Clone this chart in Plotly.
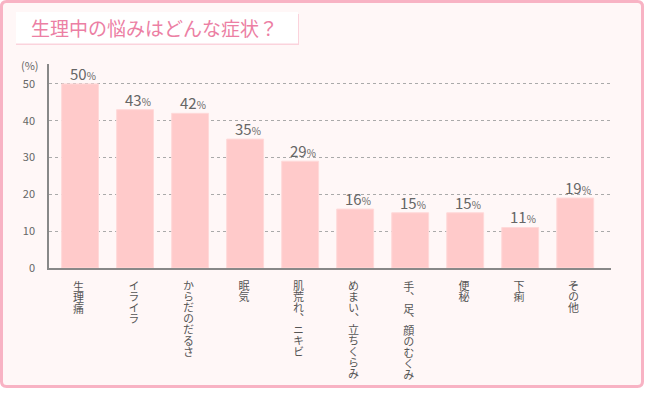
import json
import plotly.graph_objects as go

categories = ["生理痛", "イライラ", "からだのだるさ", "眠気", "肌荒れ、ニキビ",
              "めまい、立ちくらみ", "手、足、顔のむくみ", "便秘", "下痢", "その他"]
values = [50, 43, 42, 35, 29, 16, 15, 15, 11, 19]
y_ticks = [0, 10, 20, 30, 40, 50]
title_text = "生理中の悩みはどんな症状？"
unit_text = "(%)"

W, H = 645, 400
L, R, T, B = 49, 611, 64, 268

def px(x):
    return (x - L) / (R - L)

def py(y):
    return (B - y) / (B - T)

FONT = "Noto Sans CJK JP, Noto Sans, sans-serif"

fig = go.Figure()
fig.add_trace(go.Bar(
    x=categories, y=values,
    marker=dict(color="#ffcaca", line=dict(color="#ffd9d9", width=1)),
    width=0.67, hoverinfo="skip",
))

shapes = []
x0, y0, x1, y1, r = 1.5, 1.5, 642.5, 386.5, 5
path = (f"M {px(x0+r)},{py(y0)} L {px(x1-r)},{py(y0)} "
        f"Q {px(x1)},{py(y0)} {px(x1)},{py(y0+r)} L {px(x1)},{py(y1-r)} "
        f"Q {px(x1)},{py(y1)} {px(x1-r)},{py(y1)} L {px(x0+r)},{py(y1)} "
        f"Q {px(x0)},{py(y1)} {px(x0)},{py(y1-r)} L {px(x0)},{py(y0+r)} "
        f"Q {px(x0)},{py(y0)} {px(x0+r)},{py(y0)} Z")
shapes.append(dict(type="path", xref="paper", yref="paper", path=path,
                   fillcolor="#fff7f7", line=dict(color="#f8b3c4", width=3), layer="below"))
shapes.append(dict(type="rect", xref="paper", yref="paper",
                   x0=px(16), x1=px(299), y0=py(14), y1=py(45),
                   fillcolor="#fbd3dc", line=dict(width=0), layer="below"))
shapes.append(dict(type="rect", xref="paper", yref="paper",
                   x0=px(16), x1=px(298), y0=py(12), y1=py(43.5),
                   fillcolor="#ffffff", line=dict(width=0), layer="below"))

annotations = []
annotations.append(dict(text=title_text, xref="paper", yref="paper",
                        x=px(29), y=py(28), xanchor="left", yanchor="middle",
                        showarrow=False,
                        font=dict(family=FONT, size=19, color="#ec7fa4")))
annotations.append(dict(text=unit_text, xref="paper", yref="paper",
                        x=px(41), y=py(65), xanchor="right", yanchor="middle",
                        showarrow=False,
                        font=dict(family=FONT, size=11, color="#666666")))

vertical_idx = []
for c, v in zip(categories, values):
    annotations.append(dict(
        text=f"{v}<span style='font-size:10px'>%</span>",
        x=c, y=v, xref="x", yref="y", xanchor="center", yanchor="bottom",
        xshift=3, yshift=-2, showarrow=False,
        font=dict(family=FONT, size=15, color="#666666")))
    vertical_idx.append(len(annotations))
    annotations.append(dict(
        text=c, x=c, y=0, xref="x", yref="y", xanchor="center", yanchor="top",
        xshift=-1.5, yshift=-10, showarrow=False,
        font=dict(family=FONT, size=11, color="#555555")))

fig.update_layout(
    width=W, height=H,
    margin=dict(l=L, r=W - R, t=T, b=H - B, pad=0),
    paper_bgcolor="#ffffff", plot_bgcolor="rgba(0,0,0,0)",
    showlegend=False, bargap=0.33,
    shapes=shapes, annotations=annotations,
    xaxis=dict(range=[-0.565, 9.65], showticklabels=False, showgrid=False,
               showline=True, linecolor="#888888", linewidth=1.5, ticks="",
               fixedrange=True),
    yaxis=dict(range=[0, 55.4], tickvals=y_ticks, showgrid=True,
               gridcolor="#aaaaaa", griddash="dot", gridwidth=1,
               showline=True, linecolor="#888888", linewidth=1.5, zeroline=False,
               ticks="", ticklabelstandoff=10,
               tickfont=dict(family=FONT, size=11, color="#666666"),
               fixedrange=True),
)

# Turn category label annotations into upright top-to-bottom (vertical) Japanese text
post = """
document.body.style.margin='0';
document.body.style.overflow='hidden';
var gd=document.getElementById('{plot_id}');
var idx=%s;
idx.forEach(function(k){
  var g=gd.querySelector('g.annotation[data-index="'+k+'"]');
  if(!g) return;
  var t=g.querySelector('text.annotation-text');
  if(!t) return;
  var b=t.getBoundingClientRect();
  var cx=(b.left+b.right)/2, top=b.top;
  t.style.writingMode='vertical-rl';
  t.style.textOrientation='upright';
  t.setAttribute('text-anchor','start');
  var a=t.getBoundingClientRect();
  var prev=t.getAttribute('transform')||'';
  t.setAttribute('transform',prev+' translate('+(cx-(a.left+a.right)/2)+','+(top-a.top)+')');
});
""" % json.dumps(vertical_idx)

fig.write_html("out.html", config={"displayModeBar": False}, post_script=post)
